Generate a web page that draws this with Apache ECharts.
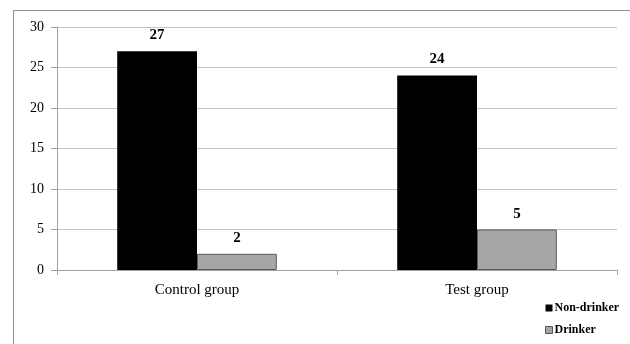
<!DOCTYPE html>
<html>
<head>
<meta charset="utf-8">
<script src="https://cdn.jsdelivr.net/npm/echarts@6/dist/echarts.min.js"></script>
<style>
  html, body { margin: 0; padding: 0; background: #fff; }
  #chart { width: 630px; height: 344px; }
</style>
</head>
<body>
<div id="chart"></div>
<script>
// Group sizes by drinking status
const categories = ['Control group', 'Test group'];
const nonDrinker = [27, 24];
const drinker = [2, 5];
const yTicks = { min: 0, max: 30, interval: 5 };

const chart = echarts.init(document.getElementById('chart'), null, { renderer: 'canvas' });

const serif = '"Liberation Serif", "Times New Roman", serif';

chart.setOption({
  animation: false,
  backgroundColor: '#fff',
  graphic: [{
    type: 'rect',
    shape: { x: 13.5, y: 10.5, width: 700, height: 400 },
    style: { fill: 'none', stroke: '#909090', lineWidth: 1 },
    silent: true
  }],
  grid: { left: 57, right: 13, top: 27, bottom: 74, containLabel: false },
  legend: {
    orient: 'vertical',
    left: 540,
    top: 297,
    itemWidth: 7,
    itemHeight: 7,
    itemGap: 10,
    icon: 'rect',
    textStyle: { fontFamily: serif, fontSize: 12, fontWeight: 'bold', color: '#000', padding: [0, 0, 0, -3] },
    data: [
      { name: 'Non-drinker', itemStyle: { color: '#000', borderColor: '#000' } },
      { name: 'Drinker', itemStyle: { color: '#a6a6a6', borderColor: '#555', borderWidth: 1 } }
    ]
  },
  xAxis: {
    type: 'category',
    data: categories,
    axisLine: { lineStyle: { color: '#a0a0a0', width: 1 } },
    axisTick: { show: true, length: 5, alignWithLabel: false, lineStyle: { color: '#a0a0a0' } },
    axisLabel: { fontFamily: serif, fontSize: 15, color: '#000', margin: 13 }
  },
  yAxis: {
    type: 'value',
    min: yTicks.min,
    max: yTicks.max,
    interval: yTicks.interval,
    axisLine: { show: true, lineStyle: { color: '#a0a0a0', width: 1 } },
    axisTick: { show: true, length: 6, lineStyle: { color: '#a0a0a0' } },
    axisLabel: { fontFamily: serif, fontSize: 14, color: '#000', margin: 13 },
    splitLine: { show: true, lineStyle: { color: '#c4c4c4', width: 1 } }
  },
  series: [
    {
      name: 'Non-drinker',
      type: 'bar',
      data: nonDrinker,
      barGap: '0%',
      barCategoryGap: '43%',
      itemStyle: { color: '#000' },
      label: { show: true, position: 'top', distance: 9, fontFamily: serif, fontSize: 15, fontWeight: 'bold', color: '#000' }
    },
    {
      name: 'Drinker',
      type: 'bar',
      data: drinker,
      itemStyle: { color: '#a6a6a6', borderColor: '#5a5a5a', borderWidth: 1 },
      label: { show: true, position: 'top', distance: 8, fontFamily: serif, fontSize: 15, fontWeight: 'bold', color: '#000' }
    }
  ]
});
</script>
</body>
</html>
